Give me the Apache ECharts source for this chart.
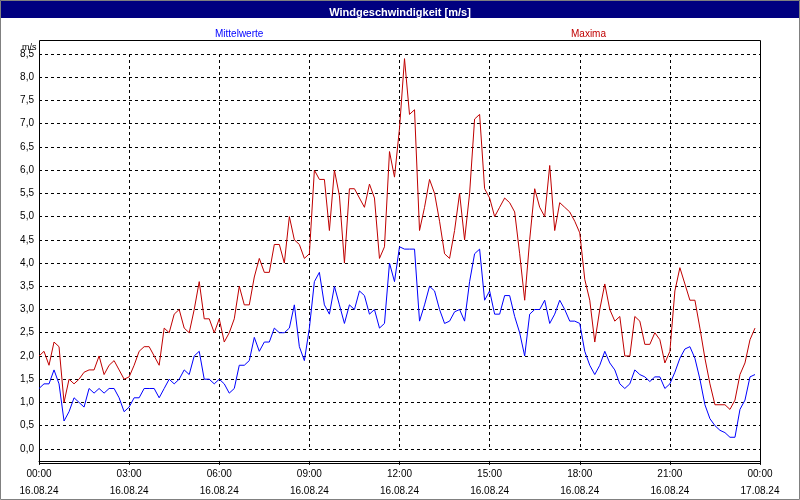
<!DOCTYPE html>
<html>
<head>
    <script src="https://cdn.jsdelivr.net/npm/echarts@6/dist/echarts.min.js"></script>
    <style>
        body { margin: 0; background: #fff; }
        #chart { width: 800px; height: 500px; }
    </style>
</head>
<body>
    <div id="chart"></div>
    <script>
        // 10-minute samples, 16.08.24 00:00 .. 23:50
        let step_minutes = 10;
        let maxima = [
            2.0, 2.1, 1.8, 2.3, 2.2, 1.0, 1.5, 1.4, 1.5, 1.65, 1.7, 1.7, 2.0, 1.6, 1.8, 1.9, 1.7, 1.5, 1.55, 1.8, 2.1, 2.2, 2.2, 2.0, 1.8, 2.6, 2.5, 2.9, 3.0, 2.6, 2.5, 3.0, 3.6, 2.8, 2.8, 2.5, 2.8,
            2.3, 2.5, 2.8, 3.5, 3.1, 3.1, 3.7, 4.1, 3.8, 3.8, 4.4, 4.4, 4.0, 5.0, 4.5, 4.4, 4.1, 4.2, 6.0, 5.8, 5.8, 4.7, 6.0, 5.45, 4.0, 5.6, 5.6, 5.4, 5.2, 5.7, 5.4, 4.1, 4.35, 6.4, 5.85,
            6.9, 8.4, 7.2, 7.3, 4.7, 5.2, 5.8, 5.5, 4.9, 4.2, 4.1, 4.7, 5.5, 4.5, 5.5, 7.1, 7.2, 5.6, 5.4, 5.0, 5.2, 5.4, 5.3, 5.1, 4.2, 3.2, 4.5, 5.6, 5.2, 5.0, 6.1, 4.7, 5.3, 5.2, 5.1, 4.9, 4.65,
            3.65, 3.2, 2.3, 3.0, 3.55, 3.0, 2.75, 2.85, 2.0, 2.0, 2.85, 2.75, 2.25, 2.25, 2.5, 2.35, 1.85, 2.1, 3.4, 3.9, 3.55, 3.2, 3.2, 2.6, 1.95, 1.4, 0.95, 0.95, 0.95, 0.85, 1.05, 1.6, 1.85, 2.35, 2.6
        ];
        let mittelwerte = [
            1.3, 1.4, 1.4, 1.7, 1.4, 0.6, 0.8, 1.1, 1.0, 0.9, 1.3, 1.2, 1.3, 1.2, 1.3, 1.3, 1.1, 0.8, 0.9, 1.1, 1.1, 1.3, 1.3, 1.3, 1.1, 1.3, 1.5, 1.4, 1.5, 1.7, 1.6, 2.0, 2.1, 1.5, 1.5, 1.4, 1.5,
            1.4, 1.2, 1.3, 1.8, 1.8, 1.9, 2.4, 2.1, 2.3, 2.3, 2.6, 2.5, 2.5, 2.6, 3.1, 2.2, 1.9, 2.6, 3.6, 3.8, 3.1, 2.9, 3.5, 3.1, 2.7, 3.1, 3.0, 3.4, 3.3, 2.9, 3.0, 2.6, 2.7, 4.0, 3.6,
            4.35, 4.3, 4.3, 4.3, 2.75, 3.1, 3.5, 3.4, 3.0, 2.7, 2.75, 2.95, 3.0, 2.75, 3.6, 4.2, 4.3, 3.2, 3.4, 2.9, 2.9, 3.3, 3.3, 2.85, 2.5, 2.0, 2.9, 3.0, 3.0, 3.2, 2.7, 2.9, 3.2, 3.0, 2.75, 2.75, 2.7,
            2.1, 1.8, 1.6, 1.8, 2.1, 1.85, 1.7, 1.4, 1.3, 1.4, 1.7, 1.6, 1.55, 1.45, 1.55, 1.55, 1.3, 1.4, 1.65, 1.95, 2.15, 2.2, 1.95, 1.5, 0.95, 0.65, 0.5, 0.4, 0.35, 0.25, 0.25, 0.85, 1.05, 1.55, 1.6
        ];
        let tick_times = ['00:00', '03:00', '06:00', '09:00', '12:00', '15:00', '18:00', '21:00', '00:00'];
        let tick_dates = ['16.08.24', '16.08.24', '16.08.24', '16.08.24', '16.08.24', '16.08.24', '16.08.24', '16.08.24', '17.08.24'];

        function pairs(values) {
            return values.map(function (v, i) { return [i * step_minutes, v]; });
        }

        let font = 'Liberation Sans, Arial, sans-serif';
        let WindChart = echarts.init(document.getElementById('chart'));
        let wind_chart = {
            animation: false,
            backgroundColor: '#ffffff',
            textStyle: { fontFamily: font },
            graphic: [
                { type: 'rect', shape: { x: 0, y: 0, width: 800, height: 18 }, style: { fill: '#000080' } },
                { type: 'text', left: 'center', top: 3, style: { text: 'Windgeschwindigkeit [m/s]', fill: '#fff', font: 'bold 11px ' + font } },
                { type: 'rect', shape: { x: 0.5, y: 0.5, width: 799, height: 499 }, style: { fill: 'none', stroke: '#808080', lineWidth: 1 } },
                { type: 'rect', shape: { x: 39.5, y: 40.5, width: 721, height: 423 }, style: { fill: 'none', stroke: '#000', lineWidth: 1 } },
                { type: 'text', left: 215, top: 26, style: { text: 'Mittelwerte', fill: '#0000ff', font: '10px ' + font } },
                { type: 'text', left: 571, top: 26, style: { text: 'Maxima', fill: '#c00000', font: '10px ' + font } },
                { type: 'text', left: 22, top: 40, style: { text: 'm/s', fill: '#000', font: '9px ' + font } }
            ],
            grid: { left: 39, right: 40, top: 54, bottom: 49 },
            xAxis: {
                type: 'value',
                min: 0,
                max: 1440,
                interval: 180,
                axisLine: { onZero: false, lineStyle: { color: '#000' } },
                offset: 12,
                axisTick: { show: true, length: 4, lineStyle: { color: '#000' } },
                axisLabel: {
                    color: '#000', fontSize: 10, lineHeight: 17, margin: 5,
                    formatter: function (v) {
                        let i = Math.round(v / 180);
                        return tick_times[i] + '\n' + tick_dates[i];
                    }
                },
                splitLine: { show: true, lineStyle: { color: '#000', type: [3, 3], width: 1 } }
            },
            yAxis: {
                type: 'value',
                min: 0,
                max: 8.5,
                interval: 0.5,
                axisLine: { show: false },
                axisTick: { show: false },
                axisLabel: {
                    color: '#000', fontSize: 10, margin: 5,
                    formatter: function (v) { return v.toFixed(1).replace('.', ','); }
                },
                splitLine: { show: true, lineStyle: { color: '#000', type: [3, 3], width: 1 } }
            },
            series: [
                { name: 'Mittelwerte', type: 'line', data: pairs(mittelwerte), showSymbol: false, lineStyle: { color: '#0000ff', width: 1 } },
                { name: 'Maxima', type: 'line', data: pairs(maxima), showSymbol: false, lineStyle: { color: '#c00000', width: 1 } }
            ]
        };
        WindChart.setOption(wind_chart);
    </script>
</body>
</html>
